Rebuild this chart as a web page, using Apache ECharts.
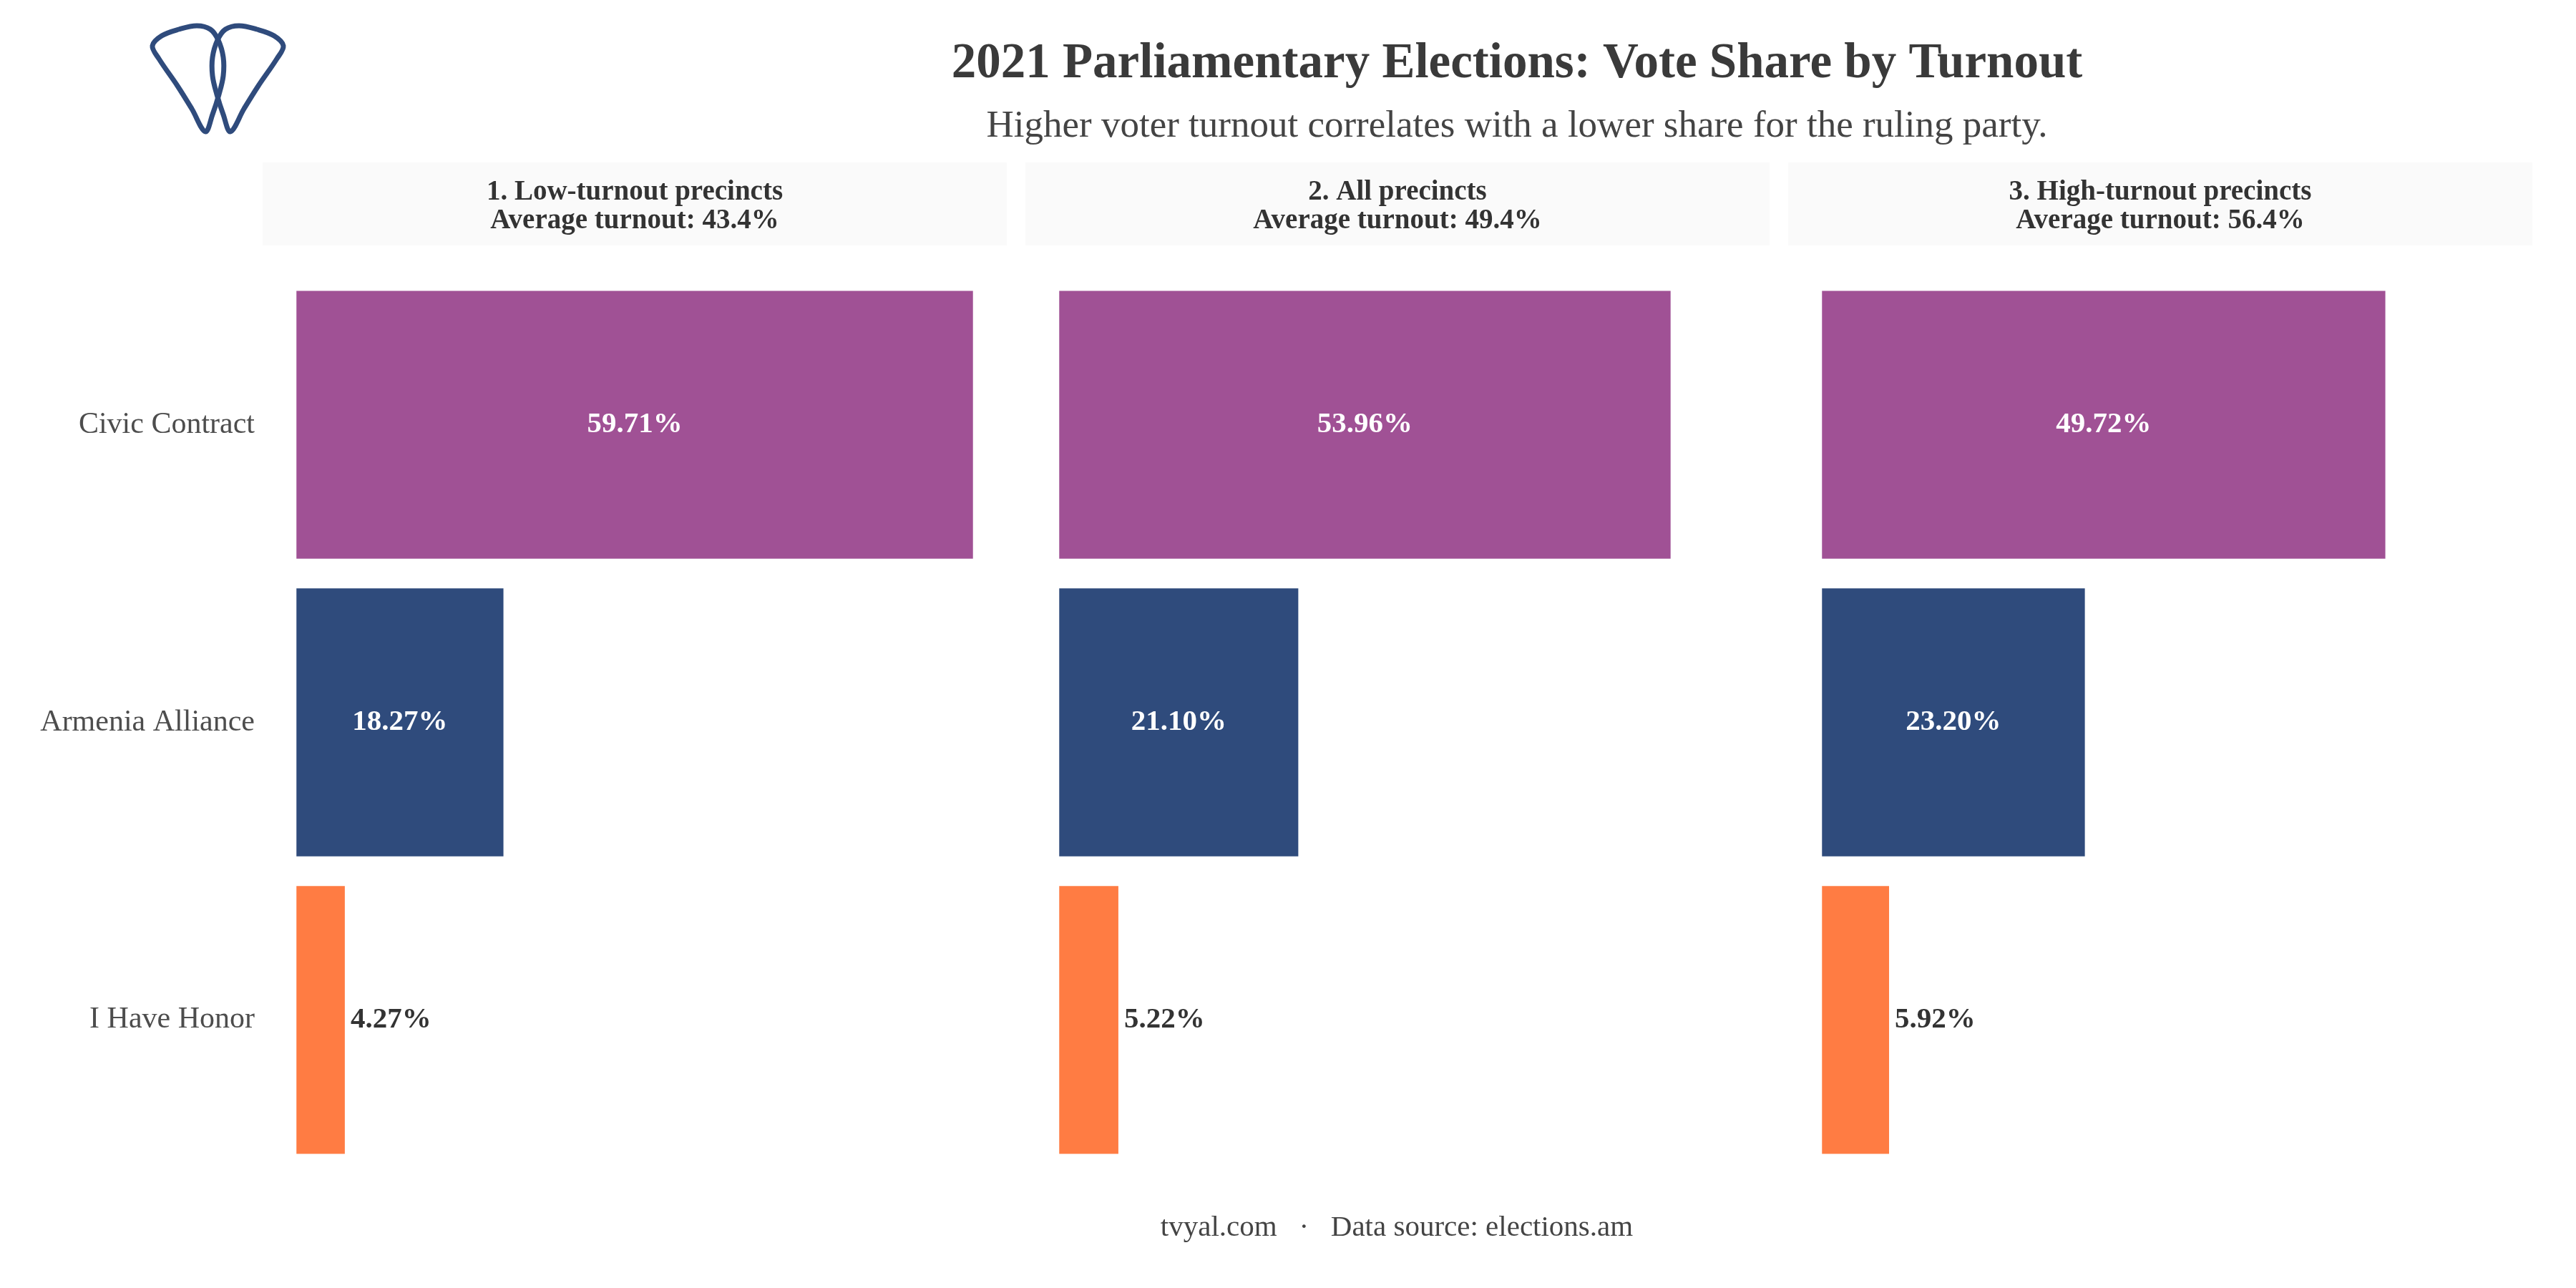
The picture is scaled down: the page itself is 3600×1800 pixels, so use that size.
<!DOCTYPE html>
<html>
<head>
<meta charset="utf-8">
<script src="https://cdn.jsdelivr.net/npm/echarts@6/dist/echarts.min.js"></script>
<style>
  html, body { margin: 0; padding: 0; background: #fff; }
  #chart { width: 3600px; height: 1800px; }
</style>
</head>
<body>
<div id="chart"></div>
<script>
// data
const parties = ['Civic Contract', 'Armenia Alliance', 'I Have Honor'];
const panelTitles = ['1. Low-turnout precincts', '2. All precincts', '3. High-turnout precincts'];
const avgTurnout = [43.4, 49.4, 56.4];
const lowTurnoutShare = [59.71, 18.27, 4.27];
const allPrecinctsShare = [53.96, 21.10, 5.22];
const highTurnoutShare = [49.72, 23.20, 5.92];

const panelShares = [lowTurnoutShare, allPrecinctsShare, highTurnoutShare];
const partyColors = ['#a05195', '#2f4b7c', '#ff7c43'];
const FONT = '"Liberation Serif", "DejaVu Serif", serif';

var chart = echarts.init(document.getElementById('chart'));

// shared x scale, ggplot-like 5% expansion on each side
const maxShare = Math.max(...panelShares.flat());
const pad = maxShare * 0.05;

const panelLeft = [367, 1433, 2499];
const panelWidth = 1040;
const stripTop = 227, stripBottom = 343;

const grids = [], xAxes = [], yAxes = [], series = [], graphics = [];

panelShares.forEach((shares, i) => {
  grids.push({ left: panelLeft[i], width: panelWidth, top: 385.6, bottom: 1800 - 1633.4 });
  xAxes.push({ type: 'value', gridIndex: i, min: -pad, max: maxShare + pad, show: false });
  yAxes.push({
    type: 'category',
    gridIndex: i,
    data: parties,
    inverse: true,
    axisLine: { show: false },
    axisTick: { show: false },
    splitLine: { show: false },
    axisLabel: {
      show: i === 0,
      margin: 11,
      fontFamily: FONT,
      fontSize: 42,
      color: '#4d4d4d'
    }
  });
  series.push({
    type: 'bar',
    xAxisIndex: i,
    yAxisIndex: i,
    barWidth: '90%',
    data: shares.map((v, j) => ({
      value: v,
      itemStyle: { color: partyColors[j] },
      label: v > 10
        ? { position: 'inside', color: '#fff' }
        : { position: 'right', color: '#333', distance: 8 }
    })),
    label: {
      show: true,
      fontFamily: FONT,
      fontSize: 41,
      fontWeight: 'bold',
      formatter: p => p.value.toFixed(2) + '%'
    }
  });

  // facet strip
  graphics.push({
    type: 'rect',
    shape: { x: panelLeft[i], y: stripTop, width: panelWidth, height: stripBottom - stripTop },
    style: { fill: '#fafafa' },
    silent: true
  });
  graphics.push({
    type: 'text',
    x: panelLeft[i] + panelWidth / 2,
    y: (stripTop + stripBottom) / 2 + 4,
    style: {
      text: panelTitles[i] + '\nAverage turnout: ' + avgTurnout[i].toFixed(1) + '%',
      align: 'center',
      verticalAlign: 'middle',
      fontFamily: FONT,
      fontSize: 39,
      fontWeight: 'bold',
      lineHeight: 40,
      fill: '#333'
    }
  });
});

// logo: two overlapping petals
const leftPetal = [
  [287, 184], [268, 152], [248, 120], [222, 82], [213, 64], [226, 50],
  [250, 41], [275, 36], [294, 41], [305, 56], [312, 80], [312, 106],
  [306, 132], [297, 160]
];
const rightPetal = leftPetal.map(p => [609 - p[0], p[1]]);
[leftPetal, rightPetal].forEach(pts => {
  graphics.push({
    type: 'polygon',
    shape: { points: pts, smooth: 0.35 },
    style: { fill: 'none', stroke: '#2f4b7c', lineWidth: 7 },
    silent: true
  });
});

graphics.push({
  type: 'text',
  x: 2120,
  y: 90,
  style: {
    text: '2021 Parliamentary Elections: Vote Share by Turnout',
    align: 'center',
    verticalAlign: 'middle',
    fontFamily: FONT,
    fontSize: 69,
    fontWeight: 'bold',
    fill: '#3a3a3a'
  }
});
graphics.push({
  type: 'text',
  x: 2120,
  y: 177,
  style: {
    text: 'Higher voter turnout correlates with a lower share for the ruling party.',
    align: 'center',
    verticalAlign: 'middle',
    fontFamily: FONT,
    fontSize: 53,
    fill: '#444'
  }
});
graphics.push({
  type: 'text',
  x: 1952,
  y: 1716,
  style: {
    text: 'tvyal.com   \u00b7   Data source: elections.am',
    align: 'center',
    verticalAlign: 'middle',
    fontFamily: FONT,
    fontSize: 41,
    fill: '#444'
  }
});

const option = {
  backgroundColor: '#ffffff',
  animation: false,
  grid: grids,
  xAxis: xAxes,
  yAxis: yAxes,
  series: series,
  graphic: graphics
};

chart.setOption(option);
</script>
</body>
</html>
